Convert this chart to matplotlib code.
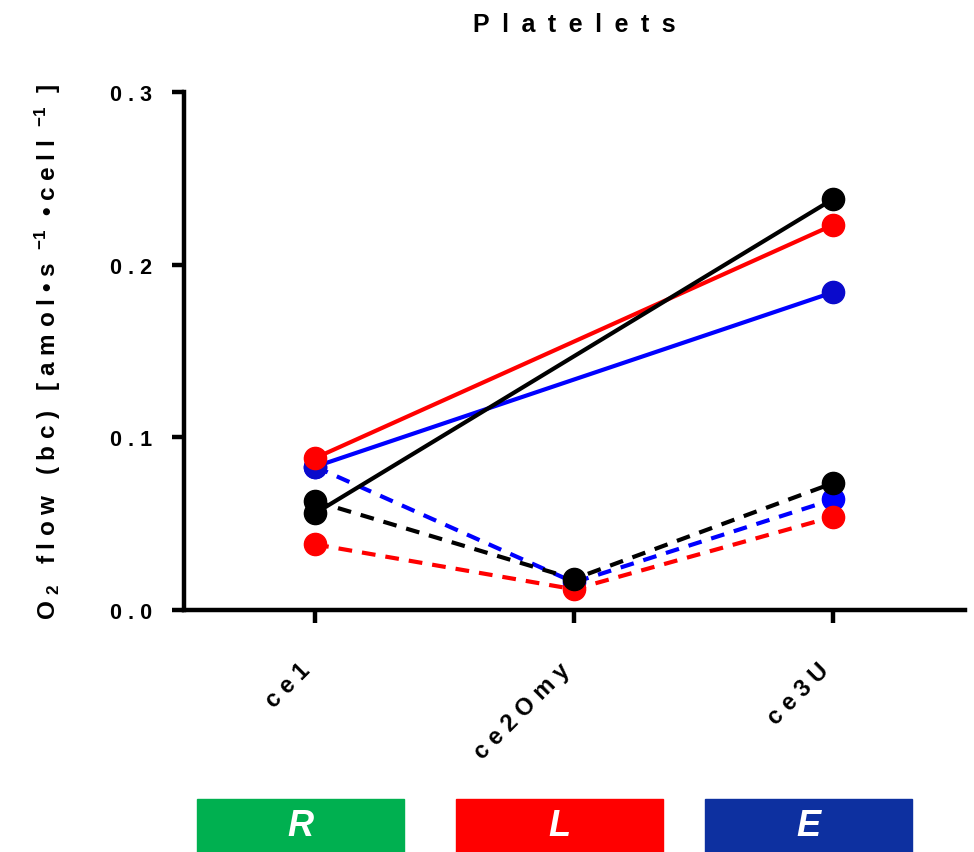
import numpy as np
import matplotlib
matplotlib.use("Agg")
import matplotlib.pyplot as plt
from matplotlib.patches import Rectangle

plt.rcParams['font.family'] = ['Liberation Sans', 'DejaVu Sans']
plt.rcParams['mathtext.fontset'] = 'custom'
plt.rcParams['mathtext.rm'] = 'Liberation Sans:bold'
plt.rcParams['mathtext.bf'] = 'Liberation Sans:bold'
plt.rcParams['mathtext.default'] = 'bf'

# Data
categories = ["ce1", "ce2Omy", "ce3U"]
category_labels = ["c e 1", "c e 2 O m y", "c e 3 U"]
yticks = [0.0, 0.1, 0.2, 0.3]
ytick_labels = ["0 . 0", "0 . 1", "0 . 2", "0 . 3"]

# dashed series (all three protocol steps)
blue_dashed = [0.083, 0.016, 0.064]
red_dashed = [0.038, 0.012, 0.054]
black_dashed = [0.063, 0.018, 0.0735]
# solid series (no ce2Omy step)
blue_solid = [0.083, np.nan, 0.184]
red_solid = [0.088, np.nan, 0.223]
black_solid = [0.056, np.nan, 0.238]

groups = ["R", "L", "E"]
group_colors = ["#00B050", "#FF0000", "#0D30A0"]

fig = plt.figure(figsize=(9.74, 8.53), dpi=100)
ax = fig.add_axes([0.189, 0.2837, 0.802, 0.6073])

x = np.arange(len(categories))


def draw(values, color, ls, mcolor=None):
    v = np.array(values, dtype=float)
    m = ~np.isnan(v)
    style = (0, (3.3, 2.4)) if ls == "--" else "-"
    ax.plot(x[m], v[m], color=color, lw=3.0, ls=style,
            marker="o", ms=16, mfc=mcolor or color, mec=mcolor or color,
            dash_capstyle="butt")


draw(blue_dashed, "#0000FF", "--")
draw(red_dashed, "#FF0000", "--")
draw(black_dashed, "#000000", "--")
draw(blue_solid, "#0000FF", "-", mcolor="#0A0ACC")
draw(red_solid, "#FF0000", "-")
draw(black_solid, "#000000", "-")

ax.set_xlim(-0.506, 2.51)
ax.set_ylim(0, 0.3)
for s in ["top", "right"]:
    ax.spines[s].set_visible(False)
for s in ["left", "bottom"]:
    ax.spines[s].set_linewidth(3.2)
ax.tick_params(axis="both", width=3.2, length=9, direction="out")
ax.set_yticks(yticks)
ax.set_yticklabels(ytick_labels, fontsize=15.5, fontweight="bold")
ax.set_xticks(x)
ax.set_xticklabels(category_labels, rotation=45, ha="right", va="top",
                   fontsize=17, fontweight="bold")
ax.tick_params(axis="x", pad=26)
ax.tick_params(axis="y", pad=14)

ax.set_ylabel(r"O $_{2}$   f l o w   ( b c )   [ a m o l • s  $^{-1}$  • c e l l  $^{-1}$  ]",
              fontsize=17.5, fontweight="bold", labelpad=34)
ax.set_title("\u2002".join("Platelets"), fontsize=18, fontweight="bold", pad=44)

# group boxes under the plot
box_x = [197, 456, 705]
box_w = 207
W, H = 974, 853
for bx, name, col in zip(box_x, groups, group_colors):
    fig.patches.append(Rectangle((bx / W, 0), box_w / W, 53 / H,
                                 transform=fig.transFigure, color=col, zorder=0))
    fig.text((bx + box_w / 2) / W, 26 / H, name, color="white", fontsize=26,
             fontweight="bold", fontstyle="italic", ha="center", va="center")

fig.savefig("out.png", dpi=100)
